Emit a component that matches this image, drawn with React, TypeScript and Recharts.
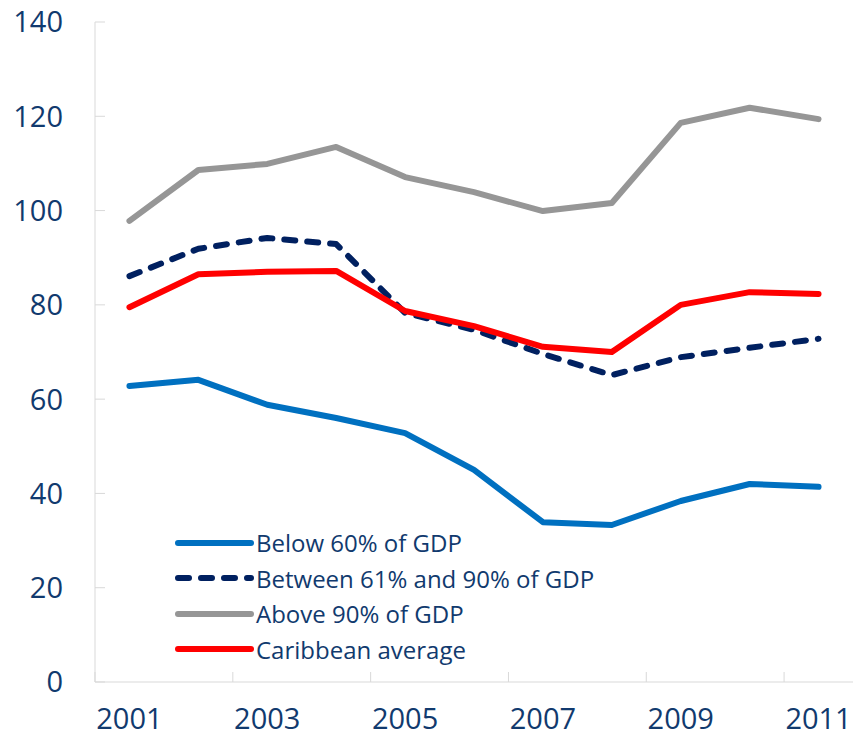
import { LineChart, Line, XAxis, YAxis, Legend } from 'recharts';

// Public debt by debt level, Caribbean (percent of GDP)
const years = ['2001', '2002', '2003', '2004', '2005', '2006', '2007', '2008', '2009', '2010', '2011'];
const below60 = [62.8, 64.1, 58.8, 56.0, 52.8, 45.0, 33.9, 33.3, 38.4, 42.0, 41.4];
const between61and90 = [86.1, 91.9, 94.2, 92.9, 78.3, 74.7, 69.6, 65.1, 68.9, 70.9, 72.8];
const above90 = [97.8, 108.6, 109.9, 113.5, 107.1, 103.9, 99.9, 101.6, 118.6, 121.8, 119.4];
const caribbeanAvg = [79.5, 86.5, 87.0, 87.2, 78.7, 75.5, 71.1, 70.0, 80.0, 82.7, 82.3];
const yTicks = [0, 20, 40, 60, 80, 100, 120, 140];

const data = years.map((year, i) => ({
  year,
  below: below60[i],
  between: between61and90[i],
  above: above90[i],
  avg: caribbeanAvg[i],
}));

const TEXT = '#113A6E';
const FRAME = '#D9D9D9';
const FONT = '"Open Sans", sans-serif';

const WIDTH = 855;
const HEIGHT = 738;
const LEFT = 87;
const RIGHT = 10;
const BAND = (WIDTH - LEFT - RIGHT) / years.length;

const series = [
  { key: 'below', name: 'Below 60% of GDP', color: '#0070C0', dash: undefined },
  { key: 'between', name: 'Between 61% and 90% of GDP', color: '#002060', dash: '11 12' },
  { key: 'above', name: 'Above 90% of GDP', color: '#969696', dash: undefined },
  { key: 'avg', name: 'Caribbean average', color: '#FF0000', dash: undefined },
];

const YTick = (props: any) => {
  const { x, y, payload } = props;
  return (
    <g>
      <line x1={x + 32} x2={x + 42} y1={y} y2={y} stroke={FRAME} strokeWidth={1} />
      <text x={x} y={y} dy="0.36em" textAnchor="end" fill={TEXT} fontSize={29} fontFamily={FONT}>
        {payload.value}
      </text>
    </g>
  );
};

// labels sit in the band centre, tick marks on the band's left edge
const XTick = (props: any) => {
  const { x, y, payload } = props;
  const edge = x - BAND / 2;
  return (
    <g>
      <line x1={edge} x2={edge} y1={y - 37} y2={y - 47} stroke={FRAME} strokeWidth={1} />
      <text x={x} y={y} dy="0.36em" textAnchor="middle" fill={TEXT} fontSize={29} fontFamily={FONT}>
        {payload.value}
      </text>
    </g>
  );
};

const LegendContent = () => (
  <div style={{ fontFamily: FONT, fontSize: 24, color: TEXT }}>
    {series.map((s) => (
      <div key={s.key} style={{ display: 'flex', alignItems: 'center', height: 35.5 }}>
        <svg width={82} height={12}>
          <line
            x1={4}
            x2={77}
            y1={6}
            y2={6}
            stroke={s.color}
            strokeWidth={6}
            strokeLinecap="round"
            strokeDasharray={s.dash}
          />
        </svg>
        <span>{s.name}</span>
      </div>
    ))}
  </div>
);

export default function App() {
  return (
    <div style={{ marginTop: -8 }}>
      <LineChart width={WIDTH} height={HEIGHT} data={data} margin={{ top: 22, right: RIGHT, left: 0, bottom: 0 }}>
        <XAxis
          dataKey="year"
          scale="band"
          interval={1}
          height={56}
          tickSize={0}
          tickMargin={37}
          tickLine={false}
          axisLine={{ stroke: FRAME }}
          tick={<XTick />}
        />
        <XAxis xAxisId="top" dataKey="year" orientation="top" height={0} tick={false} tickLine={false} axisLine={{ stroke: FRAME }} />
        <YAxis
          domain={[0, 140]}
          ticks={yTicks}
          width={LEFT}
          tickSize={0}
          tickMargin={32}
          tickLine={false}
          axisLine={{ stroke: FRAME }}
          tick={<YTick />}
        />
        <YAxis yAxisId="right" orientation="right" width={0} tick={false} tickLine={false} axisLine={{ stroke: FRAME }} />
        <Legend
          layout="vertical"
          align="center"
          verticalAlign="middle"
          content={<LegendContent />}
          wrapperStyle={{ left: 166, top: 525, width: 460 }}
        />
        {series.map((s) => (
          <Line
            key={s.key}
            type="linear"
            dataKey={s.key}
            name={s.name}
            stroke={s.color}
            strokeWidth={6}
            strokeDasharray={s.dash}
            strokeLinecap="round"
            strokeLinejoin="round"
            dot={false}
            activeDot={false}
            isAnimationActive={false}
          />
        ))}
      </LineChart>
    </div>
  );
}
